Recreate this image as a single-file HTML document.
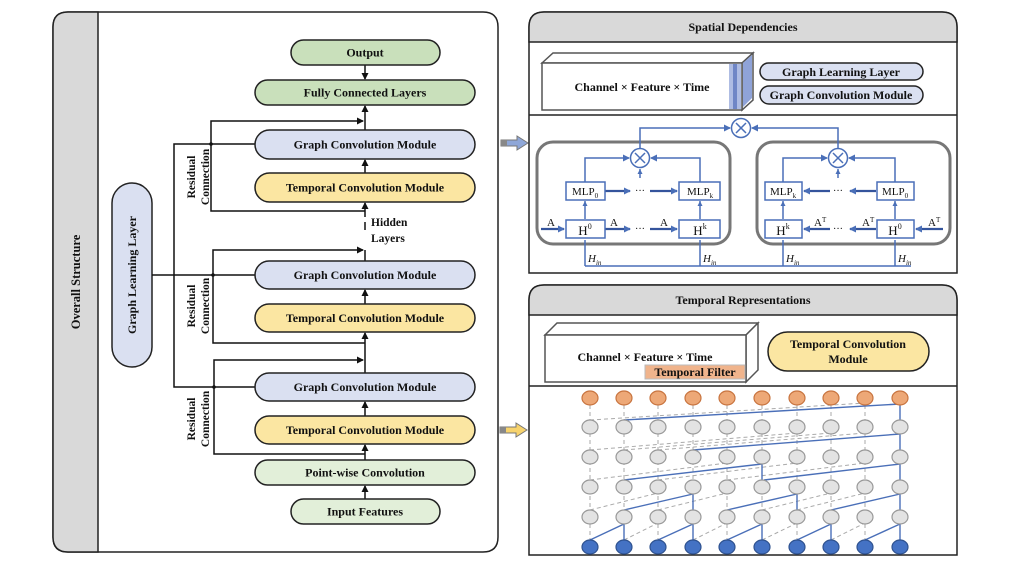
<!DOCTYPE html>
<html><head><meta charset="utf-8"><style>
html,body{margin:0;padding:0;background:#fff;}
svg{display:block;}
text{font-family:"Liberation Serif",serif;font-weight:bold;fill:#111;}
</style></head><body>
<svg width="1017" height="564" viewBox="0 0 1017 564" xmlns="http://www.w3.org/2000/svg">
<defs>
<marker id="ak" markerWidth="8" markerHeight="8" refX="6" refY="4" orient="auto" markerUnits="userSpaceOnUse"><path d="M0,0.5 L7,4 L0,7.5 z" fill="#111"/></marker>
<marker id="ab" markerWidth="8" markerHeight="8" refX="6" refY="4" orient="auto" markerUnits="userSpaceOnUse"><path d="M0,0.5 L7,4 L0,7.5 z" fill="#4a6fb8"/></marker>
<marker id="as" markerWidth="6" markerHeight="6" refX="5" refY="3" orient="auto" markerUnits="userSpaceOnUse"><path d="M0,0.5 L5,3 L0,5.5 z" fill="#4a6fb8"/></marker>
</defs>

<!-- LEFT PANEL -->
<path d="M68,12 H483 Q498,12 498,27 V537 Q498,552 483,552 H68 Q53,552 53,537 V27 Q53,12 68,12 Z" fill="#fff" stroke="#222" stroke-width="1.5"/>
<path d="M68,12 H98 V552 H68 Q53,552 53,537 V27 Q53,12 68,12 Z" fill="#d9d9d9" stroke="#222" stroke-width="1.5"/>
<text transform="translate(80,282) rotate(-90)" text-anchor="middle" font-size="12.5">Overall Structure</text>

<rect x="112" y="183" width="40" height="184" rx="20" fill="#dae0f1" stroke="#222" stroke-width="1.5"/>
<text transform="translate(136,275) rotate(-90)" text-anchor="middle" font-size="12">Graph Learning Layer</text>

<g stroke="#111" stroke-width="1.5" fill="none">
<!-- GLL connections -->
<line x1="152" y1="275" x2="255" y2="275"/>
<polyline points="255,144 174,144 174,387 255,387"/>
<!-- main spine -->
<line x1="365" y1="65" x2="365" y2="79" marker-end="url(#ak)"/>
<line x1="365" y1="130" x2="365" y2="106" marker-end="url(#ak)"/>
<line x1="365" y1="173" x2="365" y2="160" marker-end="url(#ak)"/>
<line x1="365" y1="230" x2="365" y2="203" marker-end="url(#ak)" stroke-dasharray="8,5"/>
<line x1="365" y1="261" x2="365" y2="250"/>
<line x1="365" y1="304" x2="365" y2="290" marker-end="url(#ak)"/>
<line x1="365" y1="373" x2="365" y2="333" marker-end="url(#ak)"/>
<line x1="365" y1="416" x2="365" y2="402" marker-end="url(#ak)"/>
<line x1="365" y1="460" x2="365" y2="445" marker-end="url(#ak)"/>
<line x1="365" y1="499" x2="365" y2="486" marker-end="url(#ak)"/>
<!-- residuals -->
<polyline points="365,211 211,211 211,121 363,121" marker-end="url(#ak)"/>
<polyline points="365,343 213,343 213,250 363,250" marker-end="url(#ak)"/>
<polyline points="365,454 214,454 214,360 363,360" marker-end="url(#ak)"/>
</g>
<g fill="#111"><circle cx="211" cy="144" r="1.8"/><circle cx="213" cy="275" r="1.8"/><circle cx="214" cy="387" r="1.8"/></g>

<g font-size="11.5">
<text transform="translate(195,177) rotate(-90)" text-anchor="middle">Residual</text>
<text transform="translate(209,177) rotate(-90)" text-anchor="middle">Connection</text>
<text transform="translate(195,306) rotate(-90)" text-anchor="middle">Residual</text>
<text transform="translate(209,306) rotate(-90)" text-anchor="middle">Connection</text>
<text transform="translate(195,419) rotate(-90)" text-anchor="middle">Residual</text>
<text transform="translate(209,419) rotate(-90)" text-anchor="middle">Connection</text>
<text x="371" y="226">Hidden</text>
<text x="371" y="242">Layers</text>
</g>

<g stroke="#222" stroke-width="1.5">
<rect x="291" y="40" width="149" height="25" rx="12.5" fill="#c9e0bb"/>
<rect x="255" y="80" width="220" height="25" rx="12.5" fill="#c9e0bb"/>
<rect x="255" y="130" width="220" height="29" rx="14.5" fill="#dae0f1"/>
<rect x="255" y="173" width="220" height="29" rx="14.5" fill="#fbe6a2"/>
<rect x="255" y="261" width="220" height="28" rx="14" fill="#dae0f1"/>
<rect x="255" y="304" width="220" height="28" rx="14" fill="#fbe6a2"/>
<rect x="255" y="373" width="220" height="28" rx="14" fill="#dae0f1"/>
<rect x="255" y="416" width="220" height="28" rx="14" fill="#fbe6a2"/>
<rect x="255" y="460" width="220" height="25" rx="12.5" fill="#e2efd9"/>
<rect x="291" y="499" width="149" height="25" rx="12.5" fill="#e2efd9"/>
</g>
<g font-size="12" text-anchor="middle">
<text x="365" y="56.5">Output</text>
<text x="365" y="96.5">Fully Connected Layers</text>
<text x="365" y="148.5">Graph Convolution Module</text>
<text x="365" y="191.5">Temporal Convolution Module</text>
<text x="365" y="279">Graph Convolution Module</text>
<text x="365" y="322">Temporal Convolution Module</text>
<text x="365" y="391">Graph Convolution Module</text>
<text x="365" y="434">Temporal Convolution Module</text>
<text x="365" y="476.5">Point-wise Convolution</text>
<text x="365" y="515.5">Input Features</text>
</g>

<!-- connecting arrows -->
<path d="M501,140 H517 V136 L528,143 L517,150 V146 H501 Z" fill="#8fa7d8" stroke="#777" stroke-width="1"/>
<rect x="501" y="140" width="6" height="6" fill="#888"/>
<path d="M500,427 H516 V423 L527,430 L516,437 V433 H500 Z" fill="#f7d36d" stroke="#777" stroke-width="1"/>
<rect x="500" y="427" width="6" height="6" fill="#888"/>

<!-- SPATIAL PANEL -->
<path d="M544,12 H942 Q957,12 957,27 V273 H529 V27 Q529,12 544,12 Z" fill="#fff" stroke="#222" stroke-width="1.5"/>
<path d="M544,12 H942 Q957,12 957,27 V42 H529 V27 Q529,12 544,12 Z" fill="#d9d9d9" stroke="#222" stroke-width="1.5"/>
<text x="743" y="31" font-size="12" text-anchor="middle">Spatial Dependencies</text>
<line x1="529" y1="115" x2="957" y2="115" stroke="#222" stroke-width="1.5"/>

<g stroke="#555" stroke-width="1.5">
<polygon points="542,63 553,53 753,53 742,63" fill="#fff"/>
<polygon points="742,63 753,53 753,100 742,110" fill="#fff"/>
<rect x="542" y="63" width="200" height="47" fill="#fff"/>
</g>
<rect x="729" y="64" width="12" height="45" fill="#aebce3"/>
<rect x="733" y="64" width="4" height="45" fill="#6f86c6"/>
<polygon points="743,63 752,55 752,98 743,107" fill="#8fa3d8"/>
<text x="642" y="91" font-size="12" text-anchor="middle">Channel × Feature × Time</text>
<rect x="760" y="63" width="163" height="17" rx="8.5" fill="#dae0f1" stroke="#222" stroke-width="1.5"/>
<rect x="760" y="86" width="163" height="18" rx="9" fill="#dae0f1" stroke="#222" stroke-width="1.5"/>
<text x="841" y="76" font-size="12" text-anchor="middle">Graph Learning Layer</text>
<text x="841" y="99" font-size="12" text-anchor="middle">Graph Convolution Module</text>

<rect x="537" y="142" width="193" height="102" rx="16" fill="none" stroke="#777" stroke-width="3"/>
<rect x="757" y="142" width="193" height="102" rx="16" fill="none" stroke="#777" stroke-width="3"/>

<g stroke="#4a6fb8" stroke-width="1.5" fill="none">
<circle cx="741" cy="128" r="9.5" fill="#fff"/>
<circle cx="640" cy="158" r="9.5" fill="#fff"/>
<circle cx="838" cy="158" r="9.5" fill="#fff"/>
<polyline points="640,148 640,128 730,128" marker-end="url(#ab)"/>
<polyline points="838,148 838,128 752,128" marker-end="url(#ab)"/>
<!-- left block -->
<polyline points="585,182 585,158 629,158" marker-end="url(#ab)"/>
<polyline points="700,182 700,158 651,158" marker-end="url(#ab)"/>
<line x1="640" y1="178" x2="640" y2="169" marker-end="url(#as)"/>
<line x1="585" y1="219" x2="585" y2="201" marker-end="url(#as)"/>
<line x1="700" y1="219" x2="700" y2="201" marker-end="url(#as)"/>
<!-- right block -->
<polyline points="783,182 783,158 827,158" marker-end="url(#ab)"/>
<polyline points="895,182 895,158 849,158" marker-end="url(#ab)"/>
<line x1="838" y1="178" x2="838" y2="169" marker-end="url(#as)"/>
<line x1="783" y1="219" x2="783" y2="201" marker-end="url(#as)"/>
<line x1="895" y1="219" x2="895" y2="201" marker-end="url(#as)"/>
<!-- bottom Hin -->
<polyline points="585,266 585,240"/>
<polyline points="700,266 700,240"/>
<polyline points="783,266 783,240"/>
<polyline points="895,266 895,240"/>
<line x1="585" y1="266" x2="911" y2="266"/>
</g>
<g stroke="#34549c" stroke-width="2.2" fill="none">
<line x1="605" y1="191" x2="630" y2="191" marker-end="url(#ab)"/>
<line x1="650" y1="191" x2="677" y2="191" marker-end="url(#ab)"/>
<line x1="541" y1="229" x2="564" y2="229" marker-end="url(#ab)"/>
<line x1="605" y1="229" x2="630" y2="229" marker-end="url(#ab)"/>
<line x1="650" y1="229" x2="677" y2="229" marker-end="url(#ab)"/>
<line x1="876" y1="191" x2="850" y2="191" marker-end="url(#ab)"/>
<line x1="830" y1="191" x2="804" y2="191" marker-end="url(#ab)"/>
<line x1="943" y1="229" x2="916" y2="229" marker-end="url(#ab)"/>
<line x1="876" y1="229" x2="850" y2="229" marker-end="url(#ab)"/>
<line x1="830" y1="229" x2="804" y2="229" marker-end="url(#ab)"/>
</g>
<g stroke="#4a6fb8" stroke-width="1.5" fill="#fff">
<rect x="566" y="182" width="39" height="18"/>
<rect x="679" y="182" width="41" height="18"/>
<rect x="566" y="220" width="39" height="18"/>
<rect x="679" y="220" width="41" height="18"/>
<rect x="765" y="182" width="37" height="18"/>
<rect x="877" y="182" width="37" height="18"/>
<rect x="765" y="220" width="37" height="18"/>
<rect x="877" y="220" width="37" height="18"/>
</g>
<g stroke="#4a6fb8" stroke-width="1.5">
<path d="M635,153 L645,163 M645,153 L635,163"/>
<path d="M736,123 L746,133 M746,123 L736,133"/>
<path d="M833,153 L843,163 M843,153 L833,163"/>
</g>
<g font-family="Liberation Serif,serif" font-weight="normal" fill="#222" style="font-weight:normal">
<text x="585" y="195" font-size="11" text-anchor="middle" style="font-weight:normal">MLP<tspan font-size="7" dy="3">0</tspan></text>
<text x="700" y="195" font-size="11" text-anchor="middle" style="font-weight:normal">MLP<tspan font-size="7" dy="3">k</tspan></text>
<text x="783" y="195" font-size="11" text-anchor="middle" style="font-weight:normal">MLP<tspan font-size="7" dy="3">k</tspan></text>
<text x="895" y="195" font-size="11" text-anchor="middle" style="font-weight:normal">MLP<tspan font-size="7" dy="3">0</tspan></text>
<text x="585" y="235" font-size="13" text-anchor="middle" style="font-weight:normal">H<tspan font-size="8" dy="-6">0</tspan></text>
<text x="700" y="235" font-size="13" text-anchor="middle" style="font-weight:normal">H<tspan font-size="8" dy="-6">k</tspan></text>
<text x="783" y="235" font-size="13" text-anchor="middle" style="font-weight:normal">H<tspan font-size="8" dy="-6">k</tspan></text>
<text x="895" y="235" font-size="13" text-anchor="middle" style="font-weight:normal">H<tspan font-size="8" dy="-6">0</tspan></text>
<text x="547" y="226" font-size="11" style="font-weight:normal">A</text>
<text x="610" y="226" font-size="11" style="font-weight:normal">A</text>
<text x="660" y="226" font-size="11" style="font-weight:normal">A</text>
<text x="814" y="226" font-size="11" style="font-weight:normal">A<tspan font-size="7" dy="-4">T</tspan></text>
<text x="862" y="226" font-size="11" style="font-weight:normal">A<tspan font-size="7" dy="-4">T</tspan></text>
<text x="928" y="226" font-size="11" style="font-weight:normal">A<tspan font-size="7" dy="-4">T</tspan></text>
<text x="640" y="194" font-size="10" text-anchor="middle" fill="#4a6fb8" style="font-weight:normal">···</text>
<text x="640" y="232" font-size="10" text-anchor="middle" style="font-weight:normal">···</text>
<text x="838" y="194" font-size="10" text-anchor="middle" fill="#4a6fb8" style="font-weight:normal">···</text>
<text x="838" y="232" font-size="10" text-anchor="middle" fill="#4a6fb8" style="font-weight:normal">···</text>
<text x="588" y="262" font-size="11" font-style="italic" style="font-weight:normal">H<tspan font-size="7" dy="3">in</tspan></text>
<text x="703" y="262" font-size="11" font-style="italic" style="font-weight:normal">H<tspan font-size="7" dy="3">in</tspan></text>
<text x="786" y="262" font-size="11" font-style="italic" style="font-weight:normal">H<tspan font-size="7" dy="3">in</tspan></text>
<text x="898" y="262" font-size="11" font-style="italic" style="font-weight:normal">H<tspan font-size="7" dy="3">in</tspan></text>
</g>

<!-- TEMPORAL PANEL -->
<path d="M544,285 H942 Q957,285 957,300 V555 H529 V300 Q529,285 544,285 Z" fill="#fff" stroke="#222" stroke-width="1.5"/>
<path d="M544,285 H942 Q957,285 957,300 V315 H529 V300 Q529,285 544,285 Z" fill="#d9d9d9" stroke="#222" stroke-width="1.5"/>
<text x="743" y="304" font-size="12" text-anchor="middle">Temporal Representations</text>
<line x1="529" y1="386" x2="957" y2="386" stroke="#222" stroke-width="1.5"/>

<g stroke="#555" stroke-width="1.5" fill="#fff">
<polygon points="545,335 557,323 758,323 746,335"/>
<polygon points="746,335 758,323 758,370 746,382"/>
<rect x="545" y="335" width="201" height="47"/>
</g>
<rect x="645" y="365" width="100" height="14" fill="#f0b48c" stroke="#bbb" stroke-width="1"/>
<text x="645" y="361" font-size="12" text-anchor="middle">Channel × Feature × Time</text>
<text x="695" y="376" font-size="12" text-anchor="middle">Temporal Filter</text>
<rect x="768" y="332" width="161" height="39" rx="19.5" fill="#fbe6a2" stroke="#222" stroke-width="1.5"/>
<text x="848" y="348" font-size="12" text-anchor="middle">Temporal Convolution</text>
<text x="848" y="363" font-size="12" text-anchor="middle">Module</text>

<!-- TCN dashed -->
<g stroke="#aaa" stroke-width="1" stroke-dasharray="4,3" fill="none">
<path d="M590,398V547 M624,398V547 M658,398V547 M693,398V547 M727,398V547 M762,398V547 M797,398V547 M831,398V547 M865,398V547 M900,398V547"/>
<path d="M624,540L658,523 M693,540L727,523 M762,540L797,523 M831,540L865,523"/>
<path d="M590,510L658,493 M658,510L727,493 M762,510L831,493 M797,510L865,493"/>
<path d="M590,480L727,463 M658,480L797,463 M727,480L865,463"/>
<path d="M590,450L797,433 M624,450L831,433 M658,450L865,433"/>
<path d="M590,420L865,403"/>
</g>
<!-- TCN blue -->
<g stroke="#4a6fb8" stroke-width="1.4" fill="none">
<path d="M590,540L624,524 M624,540V524 M658,540L693,524 M693,540V524 M727,540L762,524 M762,540V524 M797,540L831,524 M831,540V524 M865,540L900,524 M900,540V524"/>
<path d="M624,510L693,494 M693,510V494 M727,510L797,494 M797,510V494 M831,510L900,494 M900,510V494"/>
<path d="M624,480L762,464 M762,464V480 M764,480L900,464 M900,480V464"/>
<path d="M693,450L900,434 M900,450V434"/>
<path d="M624,420L900,404 M900,420V404"/>
</g>
<g id="nodes" stroke-width="1.2">
<g fill="#eda877" stroke="#c8743f">
<ellipse cx="590" cy="398" rx="8" ry="7"/><ellipse cx="624" cy="398" rx="8" ry="7"/><ellipse cx="658" cy="398" rx="8" ry="7"/><ellipse cx="693" cy="398" rx="8" ry="7"/><ellipse cx="727" cy="398" rx="8" ry="7"/><ellipse cx="762" cy="398" rx="8" ry="7"/><ellipse cx="797" cy="398" rx="8" ry="7"/><ellipse cx="831" cy="398" rx="8" ry="7"/><ellipse cx="865" cy="398" rx="8" ry="7"/><ellipse cx="900" cy="398" rx="8" ry="7"/>
</g>
<g fill="#e3e3e3" stroke="#999">
<ellipse cx="590" cy="427" rx="8" ry="7"/><ellipse cx="624" cy="427" rx="8" ry="7"/><ellipse cx="658" cy="427" rx="8" ry="7"/><ellipse cx="693" cy="427" rx="8" ry="7"/><ellipse cx="727" cy="427" rx="8" ry="7"/><ellipse cx="762" cy="427" rx="8" ry="7"/><ellipse cx="797" cy="427" rx="8" ry="7"/><ellipse cx="831" cy="427" rx="8" ry="7"/><ellipse cx="865" cy="427" rx="8" ry="7"/><ellipse cx="900" cy="427" rx="8" ry="7"/>
<ellipse cx="590" cy="457" rx="8" ry="7"/><ellipse cx="624" cy="457" rx="8" ry="7"/><ellipse cx="658" cy="457" rx="8" ry="7"/><ellipse cx="693" cy="457" rx="8" ry="7"/><ellipse cx="727" cy="457" rx="8" ry="7"/><ellipse cx="762" cy="457" rx="8" ry="7"/><ellipse cx="797" cy="457" rx="8" ry="7"/><ellipse cx="831" cy="457" rx="8" ry="7"/><ellipse cx="865" cy="457" rx="8" ry="7"/><ellipse cx="900" cy="457" rx="8" ry="7"/>
<ellipse cx="590" cy="487" rx="8" ry="7"/><ellipse cx="624" cy="487" rx="8" ry="7"/><ellipse cx="658" cy="487" rx="8" ry="7"/><ellipse cx="693" cy="487" rx="8" ry="7"/><ellipse cx="727" cy="487" rx="8" ry="7"/><ellipse cx="762" cy="487" rx="8" ry="7"/><ellipse cx="797" cy="487" rx="8" ry="7"/><ellipse cx="831" cy="487" rx="8" ry="7"/><ellipse cx="865" cy="487" rx="8" ry="7"/><ellipse cx="900" cy="487" rx="8" ry="7"/>
<ellipse cx="590" cy="517" rx="8" ry="7"/><ellipse cx="624" cy="517" rx="8" ry="7"/><ellipse cx="658" cy="517" rx="8" ry="7"/><ellipse cx="693" cy="517" rx="8" ry="7"/><ellipse cx="727" cy="517" rx="8" ry="7"/><ellipse cx="762" cy="517" rx="8" ry="7"/><ellipse cx="797" cy="517" rx="8" ry="7"/><ellipse cx="831" cy="517" rx="8" ry="7"/><ellipse cx="865" cy="517" rx="8" ry="7"/><ellipse cx="900" cy="517" rx="8" ry="7"/>
</g>
<g fill="#4472c4" stroke="#2f528f">
<ellipse cx="590" cy="547" rx="8" ry="7"/><ellipse cx="624" cy="547" rx="8" ry="7"/><ellipse cx="658" cy="547" rx="8" ry="7"/><ellipse cx="693" cy="547" rx="8" ry="7"/><ellipse cx="727" cy="547" rx="8" ry="7"/><ellipse cx="762" cy="547" rx="8" ry="7"/><ellipse cx="797" cy="547" rx="8" ry="7"/><ellipse cx="831" cy="547" rx="8" ry="7"/><ellipse cx="865" cy="547" rx="8" ry="7"/><ellipse cx="900" cy="547" rx="8" ry="7"/>
</g>
</g>
</svg>
</body></html>
